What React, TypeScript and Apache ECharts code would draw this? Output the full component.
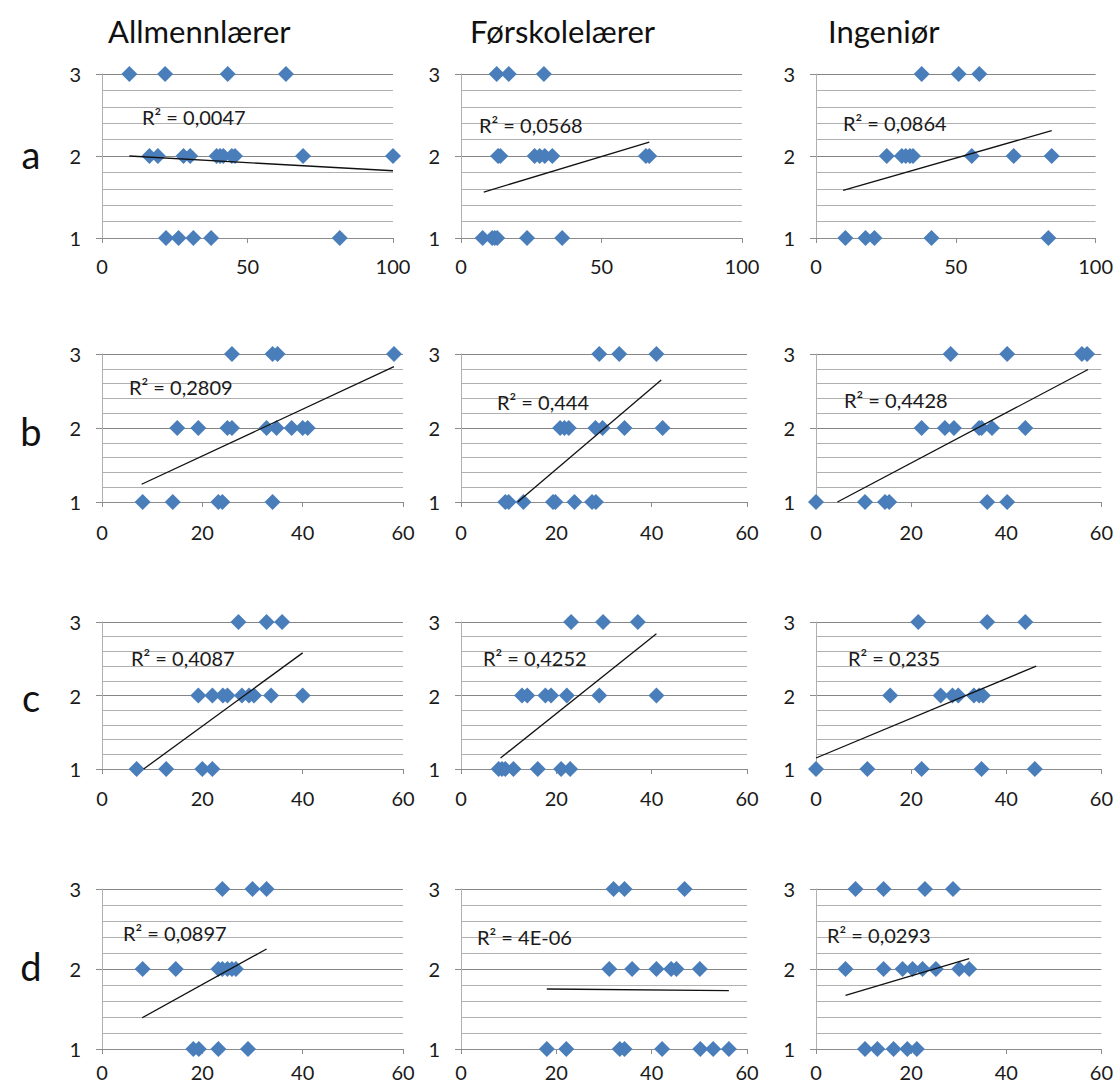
import React, { useEffect, useRef } from 'react';
import * as echarts from 'echarts';

// ---------- DATA ----------
const COLUMN_TITLES = ['Allmennlærer', 'Førskolelærer', 'Ingeniør'];
const ROW_LABELS = ['a', 'b', 'c', 'd'];
const X_MAX_BY_ROW = [100, 60, 60, 60];
const X_STEP_BY_ROW = [50, 20, 20, 20];
const Y_MIN = 1;
const Y_MAX = 3;

// x-values of the points at each answer level (3, 2, 1)
const aAllmenn = { l3: [9.4, 21.7, 43.2, 63.2], l2: [16.3, 19.2, 28, 30.3, 39.4, 40.6, 41.7, 44.6, 45.7, 69.1, 100], l1: [22, 26.3, 31.4, 37.5, 81.7] };
const aForskole = { l3: [12.7, 17, 29.5], l2: [13.2, 14, 26.2, 28, 29.8, 32.5, 65.8, 67], l1: [7.7, 11.1, 12, 12.9, 23.5, 36] };
const aIngenior = { l3: [37.8, 51, 58.4], l2: [25.3, 30.7, 32.1, 33.6, 34.7, 55.7, 70.7, 84.3], l1: [10.5, 17.7, 20.9, 41.3, 83.1] };
const bAllmenn = { l3: [25.9, 34, 35, 58.2], l2: [15, 19.2, 25, 25.9, 32.8, 34.8, 37.8, 40, 41], l1: [8.1, 14.1, 23.2, 24, 34] };
const bForskole = { l3: [29, 33.2, 41], l2: [20.8, 21.7, 22.6, 28.2, 29.7, 34.3, 42.3], l1: [9.3, 10, 13.1, 19.3, 19.8, 23.8, 27.5, 28.3] };
const bIngenior = { l3: [28.3, 40.2, 55.9, 57], l2: [22.2, 27.1, 29, 34.3, 34.8, 37, 44], l1: [0, 10.3, 14.5, 15.4, 36, 40.2] };
const cAllmenn = { l3: [27.2, 32.8, 35.9], l2: [19.2, 22, 24.1, 25, 27.9, 29.3, 30.3, 33.7, 40], l1: [6.9, 12.8, 20, 22] };
const cForskole = { l3: [23.1, 29.8, 37.1], l2: [12.8, 13.9, 17.7, 18.9, 22.2, 29, 41], l1: [7.9, 8.6, 9.3, 11, 16.1, 21, 22.9] };
const cIngenior = { l3: [21.5, 36, 44], l2: [15.6, 26.2, 28.7, 29.9, 33.2, 34.3, 35.1], l1: [0, 10.8, 22.2, 34.8, 46] };
const dAllmenn = { l3: [24, 30, 32.8], l2: [8.1, 14.7, 23.2, 24, 25, 25.9, 26.7], l1: [18.2, 19.3, 23.2, 29.1] };
const dForskole = { l3: [32, 34.3, 46.9], l2: [31.1, 35.9, 41, 44.1, 45.2, 50.1], l1: [18, 22.1, 33.3, 34.3, 42.2, 50.2, 52.9, 56.2] };
const dIngenior = { l3: [8.3, 14.2, 22.9, 28.8], l2: [6.2, 14.2, 18.2, 20.3, 22.4, 25.2, 30.1, 32.2], l1: [10.3, 12.9, 16.3, 19.2, 21.2] };

// linear trend line end points [x, y]
const aAllmennTrend = [[9.4, 2.0], [100, 1.82]];
const aForskoleTrend = [[8.1, 1.56], [67, 2.17]];
const aIngeniorTrend = [[9.7, 1.58], [84.3, 2.31]];
const bAllmennTrend = [[7.9, 1.24], [58.2, 2.83]];
const bForskoleTrend = [[11.9, 1.0], [42, 2.65]];
const bIngeniorTrend = [[4.5, 1.0], [57.2, 2.79]];
const cAllmennTrend = [[8.3, 1.0], [40, 2.58]];
const cForskoleTrend = [[8.3, 1.15], [41, 2.84]];
const cIngeniorTrend = [[0, 1.15], [46.3, 2.4]];
const dAllmennTrend = [[8, 1.39], [32.8, 2.25]];
const dForskoleTrend = [[18, 1.75], [56.2, 1.73]];
const dIngeniorTrend = [[6.2, 1.67], [32.2, 2.13]];

const R2_LABELS = [
  'R² = 0,0047', 'R² = 0,0568', 'R² = 0,0864',
  'R² = 0,2809', 'R² = 0,444', 'R² = 0,4428',
  'R² = 0,4087', 'R² = 0,4252', 'R² = 0,235',
  'R² = 0,0897', 'R² = 4E-06', 'R² = 0,0293',
];

const PANELS = [
  [aAllmenn, aForskole, aIngenior],
  [bAllmenn, bForskole, bIngenior],
  [cAllmenn, cForskole, cIngenior],
  [dAllmenn, dForskole, dIngenior],
];
const TRENDS = [
  [aAllmennTrend, aForskoleTrend, aIngeniorTrend],
  [bAllmennTrend, bForskoleTrend, bIngeniorTrend],
  [cAllmennTrend, cForskoleTrend, cIngeniorTrend],
  [dAllmennTrend, dForskoleTrend, dIngeniorTrend],
];

// ---------- LAYOUT ----------
const COL_LEFT = [102, 461, 816];
const COL_RIGHT = [
  [393, 742, 1098],
  [403, 747, 1103],
  [403, 747, 1103],
  [403, 747, 1103],
];
const ROW_TOP = [74, 354, 622, 889];
const ROW_BOTTOM = [238, 502, 769, 1049];
const X_LABEL_MARGIN = [18, 20, 19, 13];
const TITLE_POS = [[108, 31], [470, 31], [828, 31]];
const ROW_LABEL_POS = [[31, 154], [31, 431], [31, 697], [31, 966]];
const R2_POS = [
  [142, 117], [479, 125], [843, 123],
  [129, 387], [497, 402], [844, 400],
  [131, 658], [483, 658], [848, 658],
  [123, 933], [477, 937], [827, 935],
];

const FONT = 'Lato, "Open Sans", sans-serif';

function buildOption() {
  const grid: any[] = [];
  const xAxis: any[] = [];
  const yAxis: any[] = [];
  const series: any[] = [];
  const graphic: any[] = [];

  for (let r = 0; r < 4; r++) {
    for (let c = 0; c < 3; c++) {
      const i = r * 3 + c;
      const left = COL_LEFT[c];
      const right = COL_RIGHT[r][c];
      grid.push({
        left,
        top: ROW_TOP[r],
        width: right - left,
        height: ROW_BOTTOM[r] - ROW_TOP[r],
        containLabel: false,
      });
      xAxis.push({
        gridIndex: i,
        type: 'value',
        min: 0,
        max: X_MAX_BY_ROW[r],
        interval: X_STEP_BY_ROW[r],
        axisLine: { show: true, onZero: false, lineStyle: { color: '#8c8c8c', width: 1 } },
        axisTick: { show: true, length: 5, inside: false, lineStyle: { color: '#8c8c8c' } },
        axisLabel: { margin: X_LABEL_MARGIN[r], fontSize: 20, fontFamily: FONT, color: '#1a1a1a' },
        splitLine: { show: false },
      });
      yAxis.push({
        gridIndex: i,
        type: 'value',
        min: Y_MIN,
        max: Y_MAX,
        interval: 1,
        axisLine: { show: true, onZero: false, lineStyle: { color: '#b0b0b0', width: 1 } },
        axisTick: { show: true, length: 6, lineStyle: { color: '#8c8c8c' } },
        axisLabel: { margin: 21, fontSize: 20, fontFamily: FONT, color: '#1a1a1a' },
        splitLine: { show: true, lineStyle: { color: '#858585', width: 1 } },
        minorTick: { show: false, splitNumber: 5 },
        minorSplitLine: { show: true, lineStyle: { color: '#b0b0b0', width: 1 } },
      });

      const p = PANELS[r][c];
      const pts: number[][] = [];
      p.l3.forEach((x) => pts.push([x, 3]));
      p.l2.forEach((x) => pts.push([x, 2]));
      p.l1.forEach((x) => pts.push([x, 1]));
      series.push({
        type: 'scatter',
        xAxisIndex: i,
        yAxisIndex: i,
        data: pts,
        symbol: 'diamond',
        symbolSize: [16, 16],
        clip: false,
        itemStyle: { color: '#4A7EBB', opacity: 1 },
        z: 3,
      });
      series.push({
        type: 'line',
        xAxisIndex: i,
        yAxisIndex: i,
        data: TRENDS[r][c],
        symbol: 'none',
        clip: false,
        lineStyle: { color: '#111', width: 1.3 },
        z: 4,
      });

      graphic.push({
        type: 'text',
        x: R2_POS[i][0],
        y: R2_POS[i][1],
        z: 10,
        style: {
          text: R2_LABELS[i],
          font: `20px ${FONT}`,
          fill: '#1a1a1a',
          textAlign: 'left',
          align: 'left',
          textVerticalAlign: 'middle',
          verticalAlign: 'middle',
        },
      });
    }
  }

  COLUMN_TITLES.forEach((t, c) => {
    graphic.push({
      type: 'text',
      x: TITLE_POS[c][0],
      y: TITLE_POS[c][1],
      style: {
        text: t,
        font: `31px ${FONT}`,
        fill: '#111',
        textAlign: 'left',
        align: 'left',
        textVerticalAlign: 'middle',
        verticalAlign: 'middle',
      },
    });
  });
  ROW_LABELS.forEach((t, r) => {
    graphic.push({
      type: 'text',
      x: ROW_LABEL_POS[r][0],
      y: ROW_LABEL_POS[r][1],
      style: {
        text: t,
        font: `38px ${FONT}`,
        fill: '#111',
        textAlign: 'center',
        align: 'center',
        textVerticalAlign: 'middle',
        verticalAlign: 'middle',
      },
    });
  });

  return {
    animation: false,
    backgroundColor: '#ffffff',
    grid,
    xAxis,
    yAxis,
    series,
    graphic,
  };
}

export default function App() {
  const ref = useRef<HTMLDivElement>(null);
  useEffect(() => {
    document.body.style.margin = '0';
    if (!ref.current) return;
    const chart = echarts.init(ref.current, undefined, { renderer: 'svg' });
    chart.setOption(buildOption() as any);
    return () => {
      chart.dispose();
    };
  }, []);
  return <div ref={ref} style={{ width: 1116, height: 1088, background: '#fff' }} />;
}
